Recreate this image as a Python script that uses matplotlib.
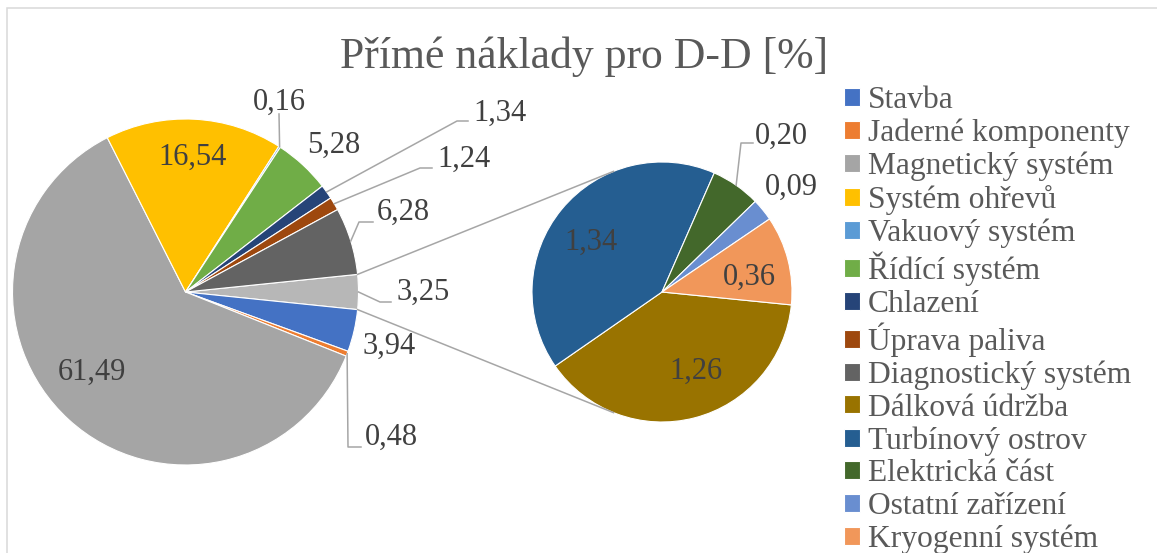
import matplotlib.pyplot as plt
import numpy as np

plt.rcParams['font.family'] = ['Liberation Serif', 'DejaVu Serif']

W, H = 1157, 553

# items of the main pie
main_names = ['Stavba', 'Jaderné komponenty', 'Magnetický systém', 'Systém ohřevů',
              'Vakuový systém', 'Řídící systém', 'Chlazení', 'Úprava paliva',
              'Diagnostický systém']
main_values = [3.94, 0.48, 61.49, 16.54, 0.16, 5.28, 1.34, 1.24, 6.28]
main_colors = ['#4472C4', '#ED7D31', '#A5A5A5', '#FFC000', '#5B9BD5', '#70AD47',
               '#264478', '#9E480E', '#636363']

# items grouped into the secondary pie
sub_names = ['Dálková údržba', 'Turbínový ostrov', 'Elektrická část',
             'Ostatní zařízení', 'Kryogenní systém']
sub_values = [1.26, 1.34, 0.20, 0.09, 0.36]
sub_colors = ['#997300', '#255E91', '#43682B', '#698ED0', '#F1975A']
other_color = '#B7B7B7'

title = 'Přímé náklady pro D-D [%]'

# label placement in pixels from the top-left corner: (x, y, ha, leader elbow points)
main_label_layout = [
    (397, 292, 'left', [(380, 302), (391, 302)]),   # grouped slice
    (363, 346, 'left', []),
    (365, 437, 'left', [(348, 447), (361, 447)]),
    (92, 372, 'center', []),
    (193, 157, 'center', []),
    (279, 102, 'center', [(279, 114)]),
    (307, 145, 'left', []),
    (473, 113, 'left', [(457, 121), (468, 121)]),
    (437, 159, 'left', [(420, 168), (432, 168)]),
    (377, 212, 'left', [(359, 222), (373, 222)]),
]
sub_label_layout = [
    (696, 371, 'center', []),
    (591, 242, 'center', []),
    (755, 136, 'left', [(741, 143), (753, 143)]),
    (765, 187, 'left', []),
    (749, 277, 'center', []),
]


def fmt(v):
    return f'{v:.2f}'.replace('.', ',')


fig = plt.figure(figsize=(W / 100, H / 100), dpi=100)
ax = fig.add_axes([0, 0, 1, 1])

main_c = (185.5, H - 292)
main_r = 173
sub_c = (662, H - 292)
sub_r = 130

other = sum(sub_values)
start = other / (sum(main_values) + other) * 360 / 2

wp = dict(edgecolor='white', linewidth=0.8)
main_wedges, _ = ax.pie([other] + main_values, colors=[other_color] + main_colors,
                        startangle=start, counterclock=False,
                        center=main_c, radius=main_r, wedgeprops=wp)
sub_wedges, _ = ax.pie(sub_values, colors=sub_colors, startangle=-5.7,
                       counterclock=False, center=sub_c, radius=sub_r,
                       wedgeprops=wp)

line_col = '#A6A6A6'
label_col = '#404040'


def put_labels(wedges, values, layout, c, r):
    for w, v, (x, y, ha, elbow) in zip(wedges, values, layout):
        if elbow:
            mid = np.deg2rad((w.theta1 + w.theta2) / 2)
            xs = [c[0] + r * np.cos(mid)] + [p[0] for p in elbow]
            ys = [c[1] + r * np.sin(mid)] + [H - p[1] for p in elbow]
            ax.plot(xs, ys, color=line_col, lw=1.1)
        ax.text(x, H - y, fmt(v), ha=ha, va='center', fontsize=22,
                color=label_col)


put_labels(main_wedges, [other] + main_values, main_label_layout, main_c, main_r)
put_labels(sub_wedges, sub_values, sub_label_layout, sub_c, sub_r)

# connector lines: from the edges of the grouped slice, tangent to the secondary pie
for sign in (1, -1):
    a = np.deg2rad(sign * start)
    px = main_c[0] + main_r * np.cos(a)
    py = main_c[1] + main_r * np.sin(a)
    dist = np.hypot(px - sub_c[0], py - sub_c[1])
    phi = np.arctan2(py - sub_c[1], px - sub_c[0])
    alpha = np.arccos(sub_r / dist)
    t = phi - sign * alpha
    ax.plot([px, sub_c[0] + sub_r * np.cos(t)], [py, sub_c[1] + sub_r * np.sin(t)],
            color=line_col, lw=1.1)

ax.text(584, H - 57, title, ha='center', va='center', fontsize=31.5,
        color='#595959')

ax.legend(main_wedges[1:] + sub_wedges, main_names + sub_names,
          loc='upper left', bbox_to_anchor=(844 / W, 1 - 86 / H),
          frameon=False, fontsize=22.7, handlelength=0.5, handleheight=0.5,
          handletextpad=0.25, labelspacing=0.115, borderpad=0,
          borderaxespad=0, labelcolor='#595959')

# chart area outline
ax.add_patch(plt.Rectangle((6.5, -100), 2000, H - 8 + 100, fill=False,
                           edgecolor='#D9D9D9', lw=1.1))

ax.set_xlim(0, W)
ax.set_ylim(0, H)
ax.set_aspect('auto')
ax.axis('off')

fig.savefig('out.png', dpi=100)
